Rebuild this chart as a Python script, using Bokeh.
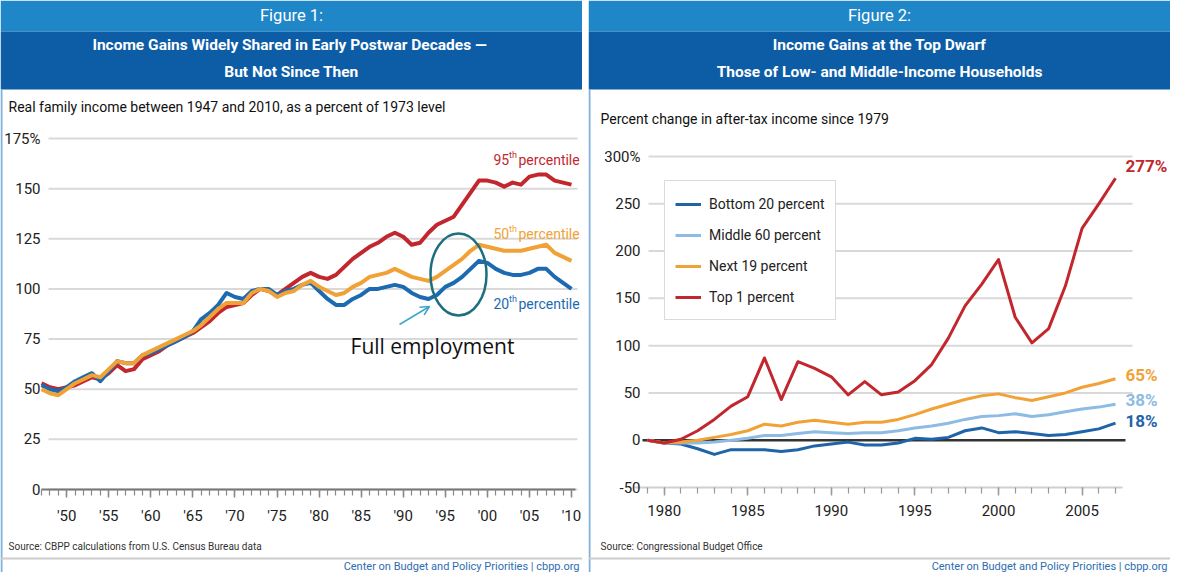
from bokeh.plotting import figure
from bokeh.layouts import row
from bokeh.models import Range1d, FixedTicker, SingleIntervalTicker, Label, Arrow, OpenHead
from bokeh.core.properties import value
from bokeh.embed import file_html
from bokeh.resources import INLINE

# ---------------- data ----------------
years1 = list(range(1947, 2011))
p20 = [52, 50, 49, 51, 54, 56, 58, 54, 59, 64,
       63, 63, 67, 68, 70, 72, 74, 76, 79, 85,
       88, 92, 98, 96, 95, 99, 100, 100, 97, 99,
       100, 102, 103, 99, 95, 92, 92, 95, 97, 100,
       100, 101, 102, 101, 98, 96, 95, 97, 101, 103,
       106, 110, 114, 113, 110, 108, 107, 107, 108, 110,
       110, 106, 103, 100]
p50 = [50, 48, 47, 50, 53, 55, 57, 56, 60, 64,
       63, 63, 67, 69, 71, 73, 75, 77, 79, 82,
       86, 90, 93, 93, 93, 98, 100, 99, 96, 98,
       99, 102, 104, 101, 99, 97, 98, 101, 103, 106,
       107, 108, 110, 108, 106, 105, 104, 106, 109, 112,
       115, 119, 122, 121, 120, 119, 119, 119, 120, 121,
       122, 118, 116, 114]
p95 = [53, 51, 50, 51, 52, 54, 56, 55, 58, 62,
       59, 60, 65, 67, 69, 72, 74, 76, 78, 81,
       84, 88, 91, 92, 93, 97, 100, 99, 97, 100,
       103, 106, 108, 106, 105, 107, 111, 115, 118, 121,
       123, 126, 128, 126, 122, 123, 128, 132, 134, 136,
       142, 148, 154, 154, 153, 151, 153, 152, 156, 157,
       157, 154, 153, 152]
series1_names = ["95", "50", "20"]
y1_ticks = [0, 25, 50, 75, 100, 125, 150, 175]
y1_labels = ["0", "25", "50", "75", "100", "125", "150", "175%"]
x1_ticks = [1950, 1955, 1960, 1965, 1970, 1975, 1980, 1985, 1990, 1995, 2000, 2005, 2010]
x1_labels = ["'50", "'55", "'60", "'65", "'70", "'75", "'80", "'85", "'90", "'95", "'00", "'05", "'10"]

years2 = list(range(1979, 2008))
bot20 = [0, -3, -4, -9, -15, -10, -10, -10, -12, -10,
         -6, -4, -2, -5, -5, -3, 2, 1, 3, 10,
         13, 8, 9, 7, 5, 6, 9, 12, 18]
mid60 = [0, -3, -3, -3, -2, 0, 2, 5, 5, 7,
         9, 8, 7, 8, 8, 10, 13, 15, 18, 22,
         25, 26, 28, 25, 27, 30, 33, 35, 38]
next19 = [0, -3, -2, 0, 3, 6, 10, 17, 15, 19,
          21, 19, 17, 19, 19, 22, 27, 33, 38, 43,
          47, 49, 45, 42, 46, 50, 56, 60, 65]
top1 = [0, -3, 1, 10, 22, 36, 46, 87, 43, 83,
        76, 67, 48, 62, 48, 51, 63, 80, 108, 142,
        165, 191, 130, 103, 118, 163, 224, 250, 277]
series2_names = ["Bottom 20 percent", "Middle 60 percent", "Next 19 percent", "Top 1 percent"]
y2_ticks = [-50, 0, 50, 100, 150, 200, 250, 300]
y2_labels = ["-50", "0", "50", "100", "150", "200", "250", "300%"]
x2_ticks = [1980, 1985, 1990, 1995, 2000, 2005]
x2_labels = ["1980", "1985", "1990", "1995", "2000", "2005"]

# ---------------- style / layout ----------------
FONT = "Roboto"
LIGHT = "#1f87c8"
DARK = "#0d5ca6"
RED = "#c1272d"
ORANGE = "#f0a236"
BLUE = "#1c6bb2"
LBLUE = "#8dbbe3"
DBLUE = "#1f63a8"
TEAL = "#1d6f80"
ARROW_C = "#3aa6c9"
GRID = "#d9d9d9"
EDGE = "#7fb1dc"
CREDIT = "Center on Budget and Policy Priorities | cbpp.org"

W = 582   # panel width
H = 572   # panel height


def lin(px_a, v_a, px_b, v_b, total):
    """range (start, end) so that value v_a sits at pixel px_a and v_b at px_b"""
    s = (v_b - v_a) / (px_b - px_a)
    start = v_a - px_a * s
    return start, start + total * s, s


def panel(fig_label, title_lines, subtitle, sub_x, sub_y, source, xr, yr):
    p = figure(width=W, height=H, x_range=Range1d(xr[0], xr[1]), y_range=Range1d(yr[0], yr[1]),
               toolbar_location=None, output_backend="svg",
               min_border_left=0, min_border_right=0, min_border_top=0, min_border_bottom=0)
    p.outline_line_color = None
    p.xgrid.visible = False
    p.ygrid.visible = False
    p.extra_x_ranges = {"px": Range1d(0, W)}
    p.extra_y_ranges = {"px": Range1d(H, 0)}
    kw = dict(x_range_name="px", y_range_name="px")
    # header bands
    p.quad(left=[0], right=[W], top=[0], bottom=[31], fill_color=LIGHT, line_color=None, **kw)
    p.quad(left=[0], right=[W], top=[31], bottom=[89], fill_color=DARK, line_color=None, **kw)
    p.segment(x0=[1], y0=[89], x1=[1], y1=[H], line_color=EDGE, line_width=2, **kw)
    p.text(x=[W / 2], y=[15], text=[fig_label], text_font=value(FONT), text_font_size="16.5px",
           text_color="white", text_align="center", text_baseline="middle", **kw)
    p.text(x=[W / 2] * len(title_lines), y=[44, 71], text=title_lines,
           text_font=value(FONT), text_font_size="15.5px", text_font_style="bold",
           text_color="white", text_align="center", text_baseline="middle", **kw)
    p.text(x=[sub_x], y=[sub_y], text=[subtitle], text_font=value(FONT), text_font_size="14px",
           text_color="#111111", text_align="left", text_baseline="middle", **kw)
    # footer
    p.text(x=[sub_x], y=[546], text=[source], text_font=value(FONT), text_font_size="10px",
           text_color="#333333", text_align="left", text_baseline="middle", **kw)
    p.segment(x0=[0], y0=[558], x1=[W], y1=[558], line_color="#cccccc", line_width=2, **kw)
    p.text(x=[W - 3], y=[566], text=[CREDIT], text_font=value(FONT), text_font_size="11px",
           text_color="#2e6db0", text_align="right", text_baseline="middle", **kw)
    return p


def axes(p, yt, yl, y_loc, xt, xl, x_loc, x_bounds, axis_color, tick_color):
    ya = p.yaxis[0]
    ya.ticker = FixedTicker(ticks=yt)
    ya.major_label_overrides = dict(zip(yt, yl))
    ya.fixed_location = y_loc
    ya.axis_line_color = None
    ya.major_tick_line_color = None
    ya.minor_tick_line_color = None
    ya.major_tick_out = 0
    ya.major_tick_in = 0
    ya.minor_tick_out = 0
    ya.minor_tick_in = 0
    ya.major_label_standoff = 6
    ya.major_label_text_font = FONT
    ya.major_label_text_font_size = "15px"
    ya.major_label_text_color = "#222222"
    xa = p.xaxis[0]
    xa.ticker = SingleIntervalTicker(interval=5, num_minor_ticks=5)
    xa.major_label_overrides = dict(zip(xt, xl))
    xa.fixed_location = x_loc
    xa.bounds = x_bounds
    xa.axis_line_color = axis_color
    xa.axis_line_width = 2
    xa.major_tick_line_color = tick_color
    xa.minor_tick_line_color = tick_color
    xa.major_tick_out = 8
    xa.major_tick_in = 0
    xa.minor_tick_out = 6
    xa.minor_tick_in = 0
    xa.major_tick_line_width = 1.5
    xa.minor_tick_line_width = 1.2
    xa.major_label_standoff = 9
    xa.major_label_text_font = FONT
    xa.major_label_text_font_size = "15px"
    xa.major_label_text_color = "#222222"


# ---------------- left panel ----------------
# chart area: 1947 at x=41px, 2010 at x=571px; 0 at y=489px, 175 at y=138px (from panel top)
x1s, x1e, sx1 = lin(41, years1[0], 571, years1[-1], W)
y1s, y1e, sy1 = lin(H - 489, y1_ticks[0], H - 138, y1_ticks[-1], H)
X1 = lambda px: x1s + px * sx1

p1 = panel("Figure 1:", ["Income Gains Widely Shared in Early Postwar  Decades \u2014",
                         "But Not Since Then"],
           "Real family income between 1947 and 2010, as a percent of 1973 level", 8, 106,
           "Source: CBPP calculations from U.S. Census Bureau data", (x1s, x1e), (y1s, y1e))
n1 = len(y1_ticks)
p1.segment(x0=[X1(48)] * n1, y0=y1_ticks, x1=[X1(577)] * n1, y1=y1_ticks,
           line_color=GRID, line_width=2)
axes(p1, y1_ticks, y1_labels, X1(46), x1_ticks, x1_labels, 0, (X1(41), X1(575)),
     "#777777", "#888888")
for ys, col in ((p95, RED), (p20, BLUE), (p50, ORANGE)):
    p1.line(years1, ys, line_color=col, line_width=4, line_join="round")

kw = dict(x_range_name="px", y_range_name="px")
for num, py, col in zip(series1_names, (159, 233, 303), (RED, ORANGE, BLUE)):
    p1.add_layout(Label(x=493, y=py, text=num, text_font=FONT, text_font_size="14px",
                        text_color=col, text_baseline="middle", text_align="left", **kw))
    p1.add_layout(Label(x=508.5, y=py, y_offset=5, text="th", text_font=FONT,
                        text_font_size="9px", text_color=col, text_baseline="middle",
                        text_align="left", **kw))
    p1.add_layout(Label(x=518, y=py, text="percentile", text_font=FONT,
                        text_font_size="14px", text_color=col, text_baseline="middle",
                        text_align="left", **kw))

p1.ellipse(x=[458], y=[274], width=56, height=82, width_units="screen", height_units="screen",
           fill_color=None, line_color=TEAL, line_width=2.5, **kw)
p1.add_layout(Arrow(end=OpenHead(size=9, line_color=ARROW_C, line_width=1.5),
                    x_start=399, y_start=324, x_end=429, y_end=306,
                    line_color=ARROW_C, line_width=1.5, **kw))
p1.add_layout(Label(x=432, y=345, text="Full employment", text_font="Open Sans",
                    text_font_size="21px", text_color="#111111", text_align="center",
                    text_baseline="middle", **kw))

# ---------------- right panel ----------------
# chart area: 1979 at x=59px, 2007 at x=527px; -50 at y=487px, 300 at y=156px
x2s, x2e, sx2 = lin(59, years2[0], 527, years2[-1], W)
y2s, y2e, sy2 = lin(H - 487, y2_ticks[0], H - 156, y2_ticks[-1], H)
X2 = lambda px: x2s + px * sx2

p2 = panel("Figure 2:", ["Income Gains at the Top Dwarf",
                         "Those of Low- and Middle-Income Households"],
           "Percent change in after-tax income since 1979", 12, 118,
           "Source: Congressional Budget Office", (x2s, x2e), (y2s, y2e))
grid2 = [t for t in y2_ticks if t > 0]
p2.segment(x0=[X2(60)] * len(grid2), y0=grid2, x1=[X2(544)] * len(grid2), y1=grid2,
           line_color=GRID, line_width=2)
p2.segment(x0=[X2(54)], y0=[0], x1=[X2(537)], y1=[0], line_color="#333333", line_width=2.5)
axes(p2, y2_ticks, y2_labels, X2(58), x2_ticks, x2_labels, y2_ticks[0], (X2(46), X2(534)),
     "#d0d0d0", "#9a9a9a")

series2 = [bot20, mid60, next19, top1]
colors2 = [DBLUE, LBLUE, ORANGE, RED]
for name, ys, col in zip(series2_names, series2, colors2):
    p2.line(years2, ys, line_color=col, line_width=3, line_join="round", legend_label=name)

lg = p2.legend[0]
lg.location = (76, 252)
lg.label_text_font = FONT
lg.label_text_font_size = "14px"
lg.label_text_color = "#222222"
lg.glyph_width = 26
lg.glyph_height = 20
lg.label_height = 25
lg.label_standoff = 8
lg.spacing = 6
lg.padding = 10
lg.margin = 0
lg.border_line_color = "#b5b5b5"
lg.border_line_width = 1
lg.background_fill_color = "white"
lg.background_fill_alpha = 1.0

for ys, col, dy in zip(series2, colors2, (2, 4, 4, 12)):
    p2.add_layout(Label(x=years2[-1], y=ys[-1], x_offset=10, y_offset=dy,
                        text=f"{ys[-1]}%", text_font=FONT, text_font_size="17px",
                        text_font_style="bold", text_color=col, text_baseline="middle",
                        text_align="left"))

page = row(p1, p2, spacing=6)
open("out.html", "w").write(file_html(page, INLINE))
